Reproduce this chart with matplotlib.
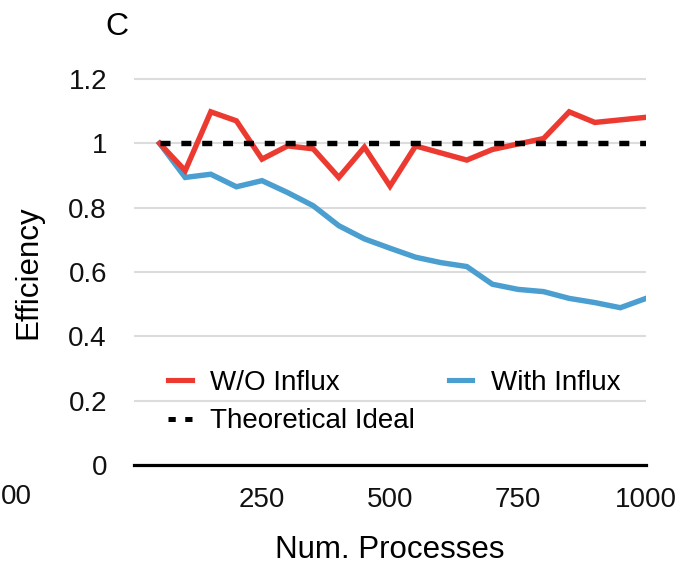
import matplotlib
matplotlib.use("Agg")
import matplotlib.pyplot as plt
from matplotlib.lines import Line2D

plt.rcParams['font.family'] = ['Liberation Sans', 'DejaVu Sans']

# ---- data ----
processes = [50, 100, 150, 200, 250, 300, 350, 400, 450, 500,
             550, 600, 650, 700, 750, 800, 850, 900, 950, 1000]
wo_influx = [1.00, 0.915, 1.098, 1.070, 0.951, 0.992, 0.983, 0.894, 0.988, 0.867,
             0.992, 0.970, 0.948, 0.981, 0.998, 1.015, 1.098, 1.065, 1.073, 1.081]
with_influx = [1.00, 0.894, 0.904, 0.865, 0.884, 0.847, 0.806, 0.744, 0.703, 0.674,
               0.646, 0.629, 0.617, 0.562, 0.546, 0.539, 0.518, 0.505, 0.489, 0.518]
ideal = [1.0] * len(processes)
x_ticks = [250, 500, 750, 1000]
y_ticks = [0, 0.2, 0.4, 0.6, 0.8, 1.0, 1.2]
y_ticklabels = ['0', '0.2', '0.4', '0.6', '0.8', '1', '1.2']
series_labels = ['W/O Influx', 'With Influx', 'Theoretical Ideal']

RED = '#EC3A31'
BLUE = '#4A9ED0'
W, H = 692, 565
fig = plt.figure(figsize=(W / 100, H / 100), dpi=100)

ymax = 1.21
ax_h = ymax / 0.003109
ax = fig.add_axes([134 / W, (H - 465) / H, 512 / W, ax_h / H])

ax.set_xlim(0, 1000)
ax.set_ylim(0, ymax)

ax.set_yticks(y_ticks)
ax.set_yticklabels(y_ticklabels)
ax.set_xticks(x_ticks)
ax.set_xticklabels([str(t) for t in x_ticks])
ax.tick_params(axis='both', length=0, labelsize=20, colors='#111111')
ax.tick_params(axis='y', pad=19.5)
ax.tick_params(axis='x', pad=15.5)
ax.yaxis.grid(True, color='#dcdcdc', linewidth=1.5, zorder=0)
ax.set_axisbelow(True)
for s in ['left', 'right', 'top']:
    ax.spines[s].set_visible(False)
ax.spines['bottom'].set_color('black')
ax.spines['bottom'].set_linewidth(2.3)
ax.spines['bottom'].set_bounds(0, 1000)

l_blue, = ax.plot(processes, with_influx, color=BLUE, lw=3.9, zorder=3,
                  solid_joinstyle='miter', label=series_labels[1])
l_red, = ax.plot(processes, wo_influx, color=RED, lw=3.9, zorder=4,
                 solid_joinstyle='miter', label=series_labels[0])
l_ideal, = ax.plot(processes, ideal, color='black', lw=3.9, zorder=5,
                   linestyle=(0, (1.85, 2.0)), dash_capstyle='butt',
                   label=series_labels[2])

ax.set_xlabel('Num. Processes', fontsize=22.5)
ax.xaxis.label.set_va('center')
ax.xaxis.set_label_coords(0.5, (H - 550 - (H - 465)) / ax_h)
ax.set_ylabel('Efficiency', fontsize=22.5)
ax.yaxis.label.set_va('center')
ax.yaxis.set_label_coords((28 - 134) / 512, 0.5 * 1.2 / ymax)

# legend proxies (shorter dashes as in the reference legend)
h_red = Line2D([], [], color=RED, lw=3.7)
h_blue = Line2D([], [], color=BLUE, lw=3.7)
h_ideal = Line2D([], [], color='black', lw=3.6, linestyle=(0, (1.45, 1.9)),
                 dash_capstyle='butt')
leg = ax.legend(handles=[h_red, h_ideal, h_blue],
                labels=[series_labels[0], series_labels[2], series_labels[1]],
                ncol=2, frameon=False, loc='upper left',
                bbox_to_anchor=((168 - 134) / 512, (H - 370 - (H - 465)) / ax_h),
                borderpad=0, borderaxespad=0, fontsize=20,
                handlelength=0.85, handletextpad=0.68, columnspacing=1.2,
                labelspacing=0.45)

fig.text(117 / W, 1 - 27 / H, 'C', fontsize=23, ha='center', va='center')
# partial tick label of neighbouring panel at the left edge
fig.text(32 / W, 1 - 497 / H, '00', fontsize=20, ha='right', va='center',
         color='#111111')

fig.savefig('out.png', dpi=100)
